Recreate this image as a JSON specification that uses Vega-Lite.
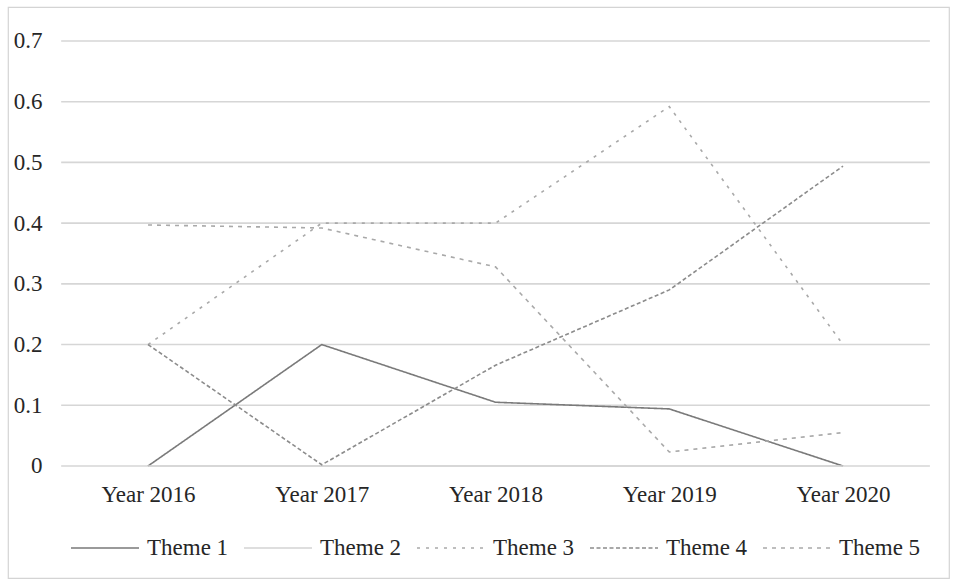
{
  "$schema": "https://vega.github.io/schema/vega-lite/v6.json",
  "width": 941,
  "height": 571,
  "autosize": {"type": "none"},
  "padding": {"left": 8, "top": 7, "right": 9, "bottom": 4},
  "background": "#ffffff",
  "datasets": {
    "gridValues": [
      {"value": 0}, {"value": 0.1}, {"value": 0.2}, {"value": 0.3},
      {"value": 0.4}, {"value": 0.5}, {"value": 0.6}, {"value": 0.7}
    ],
    "themes": [
      {"year": 2016, "theme": "Theme 1", "value": 0},
      {"year": 2017, "theme": "Theme 1", "value": 0.2},
      {"year": 2018, "theme": "Theme 1", "value": 0.105},
      {"year": 2019, "theme": "Theme 1", "value": 0.094},
      {"year": 2020, "theme": "Theme 1", "value": 0},
      {"year": 2016, "theme": "Theme 2", "value": 0},
      {"year": 2017, "theme": "Theme 2", "value": 0},
      {"year": 2018, "theme": "Theme 2", "value": 0},
      {"year": 2019, "theme": "Theme 2", "value": 0},
      {"year": 2020, "theme": "Theme 2", "value": 0},
      {"year": 2016, "theme": "Theme 3", "value": 0.2},
      {"year": 2017, "theme": "Theme 3", "value": 0.4},
      {"year": 2018, "theme": "Theme 3", "value": 0.4},
      {"year": 2019, "theme": "Theme 3", "value": 0.592},
      {"year": 2020, "theme": "Theme 3", "value": 0.2},
      {"year": 2016, "theme": "Theme 4", "value": 0.2},
      {"year": 2017, "theme": "Theme 4", "value": 0.002},
      {"year": 2018, "theme": "Theme 4", "value": 0.166},
      {"year": 2019, "theme": "Theme 4", "value": 0.29},
      {"year": 2020, "theme": "Theme 4", "value": 0.494},
      {"year": 2016, "theme": "Theme 5", "value": 0.397},
      {"year": 2017, "theme": "Theme 5", "value": 0.392},
      {"year": 2018, "theme": "Theme 5", "value": 0.328},
      {"year": 2019, "theme": "Theme 5", "value": 0.023},
      {"year": 2020, "theme": "Theme 5", "value": 0.055}
    ]
  },
  "layer": [
    {
      "data": {"name": "gridValues"},
      "mark": {"type": "rule", "color": "#d6d6d6", "strokeWidth": 1.6},
      "encoding": {
        "x": {
          "datum": 2015.5,
          "type": "quantitative",
          "scale": {"domain": [2015.194, 2020.61], "nice": false, "zero": false},
          "axis": {
            "values": [2016, 2017, 2018, 2019, 2020],
            "labelExpr": "'Year ' + datum.value",
            "orient": "bottom",
            "offset": -112,
            "domain": false,
            "ticks": false,
            "grid": false,
            "title": null,
            "labelPadding": 17,
            "labelFontSize": 23,
            "labelFont": "Liberation Serif",
            "labelColor": "#262626"
          }
        },
        "x2": {"datum": 2020.5},
        "y": {
          "field": "value",
          "type": "quantitative",
          "scale": {"domain": [-0.1845, 0.756], "nice": false, "zero": false},
          "axis": {
            "values": [0, 0.1, 0.2, 0.3, 0.4, 0.5, 0.6, 0.7],
            "labelExpr": "datum.value == 0 ? '0' : format(datum.value, '.1f')",
            "offset": -54,
            "domain": false,
            "ticks": false,
            "grid": false,
            "title": null,
            "labelPadding": 20,
            "labelFontSize": 23,
            "labelFont": "Liberation Serif",
            "labelColor": "#262626"
          }
        }
      }
    },
    {
      "data": {"name": "themes"},
      "mark": {"type": "line", "strokeWidth": 1.6},
      "encoding": {
        "x": {
          "field": "year",
          "type": "quantitative",
          "scale": {"domain": [2015.194, 2020.61], "nice": false, "zero": false},
          "axis": {
            "values": [2016, 2017, 2018, 2019, 2020],
            "labelExpr": "'Year ' + datum.value",
            "orient": "bottom",
            "offset": -112,
            "domain": false,
            "ticks": false,
            "grid": false,
            "title": null,
            "labelPadding": 17,
            "labelFontSize": 23,
            "labelFont": "Liberation Serif",
            "labelColor": "#262626"
          }
        },
        "y": {
          "field": "value",
          "type": "quantitative",
          "scale": {"domain": [-0.1845, 0.756], "nice": false, "zero": false},
          "axis": {
            "values": [0, 0.1, 0.2, 0.3, 0.4, 0.5, 0.6, 0.7],
            "labelExpr": "datum.value == 0 ? '0' : format(datum.value, '.1f')",
            "offset": -54,
            "domain": false,
            "ticks": false,
            "grid": false,
            "title": null,
            "labelPadding": 20,
            "labelFontSize": 23,
            "labelFont": "Liberation Serif",
            "labelColor": "#262626"
          }
        },
        "color": {
          "field": "theme",
          "type": "nominal",
          "scale": {
            "domain": ["Theme 1", "Theme 2", "Theme 3", "Theme 4", "Theme 5"],
            "range": ["#7a7a7a", "#d4d4d4", "#a9a9a9", "#8c8c8c", "#a9a9a9"]
          },
          "legend": {
            "title": null,
            "orient": "none",
            "legendX": 62,
            "legendY": 506,
            "direction": "horizontal",
            "columns": 5,
            "symbolType": "stroke",
            "symbolSize": 4624,
            "symbolStrokeWidth": 1.6,
            "labelFontSize": 23,
            "labelFont": "Liberation Serif",
            "labelColor": "#262626",
            "labelOffset": 7,
            "columnPadding": 11,
            "labelLimit": 200
          }
        },
        "strokeDash": {
          "field": "theme",
          "type": "nominal",
          "scale": {
            "domain": ["Theme 1", "Theme 2", "Theme 3", "Theme 4", "Theme 5"],
            "range": [[1, 0], [1, 0], [3, 6], [4, 2.5], [4, 5]]
          },
          "legend": {
            "title": null,
            "orient": "none",
            "legendX": 62,
            "legendY": 506,
            "direction": "horizontal",
            "columns": 5,
            "symbolType": "stroke",
            "symbolSize": 4624,
            "symbolStrokeWidth": 1.6,
            "labelFontSize": 23,
            "labelFont": "Liberation Serif",
            "labelColor": "#262626",
            "labelOffset": 7,
            "columnPadding": 11,
            "labelLimit": 200
          }
        },
        "order": {"field": "year", "type": "quantitative"}
      }
    }
  ],
  "config": {
    "view": {"stroke": "#d4d4d4", "strokeWidth": 1.2},
    "font": "Liberation Serif"
  }
}
